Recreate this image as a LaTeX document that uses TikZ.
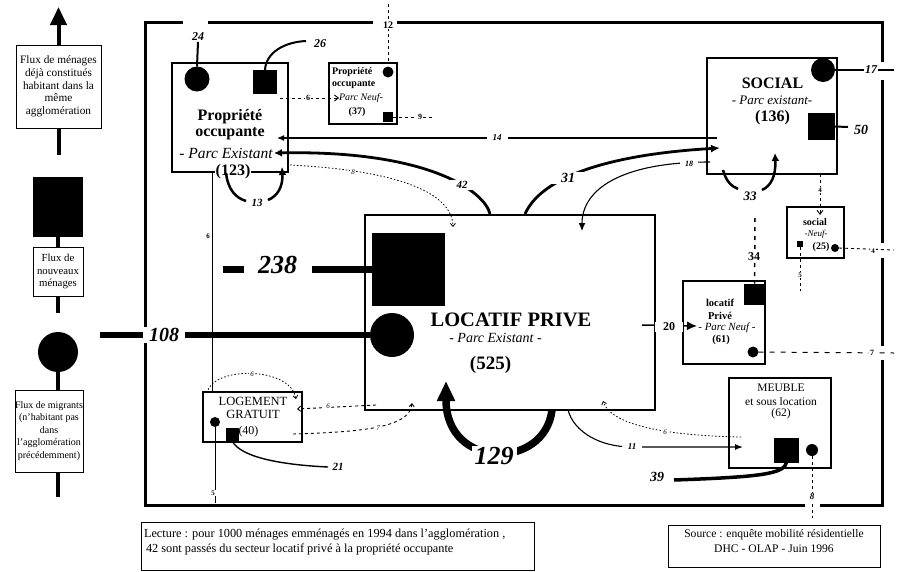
\documentclass[tikz,border=0pt]{standalone}
\usepackage{fontspec}
\setmainfont{Liberation Serif}
\usetikzlibrary{arrows.meta}
\newcommand{\myfs}[1]{\fontsize{#1}{#1}\selectfont}
\begin{document}
\begin{tikzpicture}[x=1pt,y=-1pt,line cap=butt,
  every node/.style={inner sep=0pt,outer sep=0pt},
  bx/.style={draw,line width=1.8pt,rectangle},
  lbox/.style={draw,line width=0.9pt,fill=white,align=center},
  blob/.style={circle,fill=black},
  sq/.style={rectangle,fill=black},
  num/.style={fill=white,inner sep=1pt,font=\bfseries\itshape},
  leg/.style={line width=4pt},
  thinflow/.style={line width=1.1pt},
  dsh/.style={line width=0.9pt,dash pattern=on 3pt off 3pt},
  dtt/.style={line width=0.8pt,dash pattern=on 1.5pt off 2pt},
  fa/.style={-{Latex[length=7pt,width=6pt]}},
  oa/.style={-{Straight Barb[length=3pt,width=5pt]}},
]
\useasboundingbox (0,0) rectangle (898,571);

% ---------- frame
\draw[line width=3pt] (183,22) -- (145,22) -- (145,505) -- (805,505)
  (820,505) -- (882,505) -- (882,360)
  (882,346) -- (882,258)
  (882,243) -- (882,80)
  (882,62) -- (882,22) -- (397,22)
  (373,22) -- (208,22);

% ---------- legend
\node[lbox,minimum width=85pt,minimum height=83pt,font={\fontsize{11.3}{12.7}\selectfont}] (L1) at (58.5,86.5) {Flux de ménages\\déjà constitués\\habitant dans la\\même\\agglomération};
\coordinate (Ltop) at (58.5,7);
\coordinate (L1b) at (58.5,155);
\draw[leg,-{Triangle[length=18pt,width=16pt]}] (L1.north) -- (Ltop);
\draw[leg] (L1.south) -- (L1b);
\node[sq,minimum width=50pt,minimum height=60pt] (LS) at (58,207) {};
\node[lbox,minimum width=50pt,minimum height=49pt,font={\fontsize{10.8}{12.5}\selectfont}] (L2) at (58,271.5) {Flux de\\nouveaux\\ménages};
\draw[leg] (LS.south) -- (L2.north);
\coordinate (L2b) at (58,313);
\draw[leg] (L2.south) -- (L2b);
\node[blob,minimum size=40pt] (LC) at (58,352) {};
\node[lbox,minimum width=68pt,minimum height=82pt,font={\fontsize{10}{12.5}\selectfont}] (L3) at (49,431) {Flux de migrants\\(n'habitant pas\\dans\\l'agglomération\\précédemment)};
\draw[leg] (LC.south) -- (LC.south |- L3.north);
\coordinate (L3b) at (58,497);
\draw[leg] (LC.south |- L3.south) -- (L3b);

% ---------- Propriete occupante (existant)
\node[bx,minimum width=116pt,minimum height=109pt] (PO) at (230,117.5) {};
\node[blob,minimum size=25pt] (POc) at (197,79) {};
\node[sq,minimum size=24pt] (POs) at (265,82) {};
\node[font=\bfseries\myfs{16}] at (230,117) {Propriété};
\node[font=\bfseries\myfs{16}] at (230,134) {occupante};
\node[font=\itshape\myfs{15.5}] at (226,153) {- Parc Existant};
\node[font=\bfseries\myfs{16},fill=white,inner sep=0.5pt] at (233,172) {(123)};
\coordinate (POa14) at (277,138);
\coordinate (POa42) at (274,153);

\node[num,font=\bfseries\itshape\myfs{12}] (n24) at (198,37) {24};
\draw[line width=2pt] (n24.south) -- (POc.north);
\coordinate (e26) at (306,41);
\draw[line width=2pt] (POs.north) .. controls (266,52) and (285,42) .. (e26);
\node[font=\bfseries\itshape\myfs{12}] at (320,44) {26};

% 13 loop
\coordinate (s13) at (226,173);
\coordinate (m13a) at (246,201);
\coordinate (m13b) at (268,200);
\coordinate (a13) at (282,167);
\draw[line width=2.5pt] (s13) .. controls (228,190) and (236,198) .. (m13a);
\draw[line width=2.5pt,-{Latex[length=8pt,width=8pt]}] (m13b) .. controls (278,196) and (283,186) .. (a13);
\node[font=\bfseries\itshape\myfs{11}] at (257,203) {13};

% ---------- Propriete occupante neuf
\node[bx,minimum width=68pt,minimum height=61pt] (PON) at (363,93.5) {};
\node[anchor=west,font=\bfseries\myfs{10}] at (332,72) {Propriété};
\node[anchor=west,font=\bfseries\myfs{10}] at (332,85) {occupante};
\node[blob,minimum size=11pt] (PONc) at (388,72) {};
\node[font=\itshape\myfs{10}] (PONt) at (361,98) {Parc Neuf-};
\node[font=\bfseries\myfs{10}] at (357,112) {(37)};
\node[sq,minimum size=10pt] (PONs) at (388,117) {};

\coordinate (s6a) at (280,98);
\draw[dsh,-{Straight Barb[length=4pt,width=6pt]}] (s6a) -- (PONt.west);
\node[num,font=\bfseries\myfs{8}] at (308,98) {6};
\coordinate (e9) at (434,117);
\draw[dsh] (PONs.east) -- (e9);
\node[num,font=\bfseries\myfs{8}] at (420,117) {9};
\coordinate (s12) at (388,4);
\draw[dsh] (s12) -- (PONc |- PON.north);
\node[num,font=\bfseries\myfs{10}] at (388,25) {12};

% ---------- Social
\node[bx,minimum width=130pt,minimum height=116pt] (SOC) at (772,116) {};
\node[font=\bfseries\myfs{16}] at (772.5,83) {SOCIAL};
\node[font=\itshape\myfs{13}] at (772,100) {- Parc existant-};
\node[font=\bfseries\myfs{16}] at (772.5,118) {(136)};
\node[blob,minimum size=24pt] (SOCc) at (823,70) {};
\node[sq,minimum size=27pt] (SOCs) at (821.5,126.5) {};
\coordinate (e17) at (894,70);
\draw[line width=1.8pt] (SOCc.east) -- (e17);
\node[num,font=\bfseries\itshape\myfs{12}] at (871,70) {17};
\coordinate (e50) at (848,127);
\draw[line width=2pt] (SOCs.east) -- (e50);
\node[font=\bfseries\itshape\myfs{14}] at (861,130) {50};

% 33 loop
\coordinate (s33) at (723,170);
\coordinate (m33a) at (738,189);
\coordinate (m33b) at (762,190);
\coordinate (a33) at (775,153);
\draw[line width=2.5pt] (s33) .. controls (726,181) and (731,186) .. (m33a);
\draw[line width=2.5pt,-{Latex[length=8pt,width=8pt]}] (m33b) .. controls (771,186) and (776,176) .. (a33);
\node[font=\bfseries\itshape\myfs{13}] at (750,196) {33};

% ---------- Locatif prive
\node[draw,line width=1.4pt,minimum width=290pt,minimum height=195pt] (LP) at (510,312.5) {};
\node[sq,minimum size=73pt] (LPs) at (408.5,269) {};
\node[blob,minimum size=44pt] (LPc) at (392,335) {};
\node[font=\bfseries\myfs{20.5}] at (511,320) {LOCATIF PRIVE};
\node[font=\itshape\myfs{14}] at (495.5,338) {- Parc Existant -};
\node[font=\bfseries\myfs{19}] at (490.5,365) {(525)};

% 238
\coordinate (s238) at (223,269);
\draw[line width=7pt] (s238) -- (LPs.west);
\node[num,minimum width=68pt,font=\bfseries\itshape\myfs{26}] at (277.5,265) {238};
% 108
\coordinate (s108) at (100,335);
\draw[line width=6pt] (s108) -- (LPc.west);
\node[num,minimum width=42pt,font=\bfseries\itshape\myfs{20}] at (164,335) {108};

% 14
\coordinate (s14) at (717,138);
\draw[thinflow,fa] (s14) -- (POa14);
\node[num,inner xsep=6pt,font=\bfseries\itshape\myfs{9}] at (497,138) {14};

% 42
\coordinate (s42) at (490,214);
\draw[line width=2.8pt,-{Latex[length=8pt,width=8pt]}] (s42) .. controls (485,192) and (430,150) .. (POa42);
\node[num,inner xsep=7pt,font=\bfseries\itshape\myfs{11}] at (462,185) {42};

% 31
\coordinate (s31) at (525,214);
\coordinate (a31) at (720,148);
\draw[line width=2.8pt,-{Latex[length=9pt,width=8pt]}] (s31) .. controls (540,180) and (600,155) .. (a31);
\node[num,inner xsep=12pt,font=\bfseries\itshape\myfs{14}] at (568,178) {31};

% 18
\coordinate (s18) at (710,162);
\coordinate (a18) at (582,231);
\draw[thinflow,-{Latex[length=8pt,width=7pt]}] (s18) .. controls (620,162) and (582,190) .. (a18);
\node[num,inner xsep=5pt,font=\bfseries\itshape\myfs{8}] at (689,164) {18};

% 8 dotted
\coordinate (s8) at (290,165);
\coordinate (a8) at (453,227);
\draw[dtt,oa] (s8) .. controls (390,170) and (452,190) .. (a8);
\node[num,font=\itshape\myfs{7}] at (353,172) {8};

% vertical 6
\coordinate (s6v) at (212,172);
\coordinate (e6v) at (212,392);
\draw[line width=0.5pt] (s6v) -- (e6v);
\node[num,font=\bfseries\myfs{7}] at (208,236) {6};

% ---------- social neuf
\node[bx,minimum width=57pt,minimum height=51pt] (SN) at (815.5,232.5) {};
\node[font=\bfseries\myfs{10}] at (815,222) {social};
\node[font=\itshape\myfs{9}] at (816,234.5) {-Neuf-};
\node[font=\bfseries\myfs{10}] at (821,247.5) {(25)};
\node[sq,minimum size=6pt] (SNs) at (800,244) {};
\node[blob,minimum size=8pt] (SNc) at (835,248) {};
\coordinate (s4) at (820,174);
\coordinate (a4) at (820,215);
\draw[dsh,-{Straight Barb[length=4pt,width=6pt]}] (s4) -- (a4);
\node[num,font=\bfseries\myfs{7}] at (820,190) {4};
\coordinate (e4r) at (894,250);
\draw[dsh] (SNc.east) -- (e4r);
\node[num,font=\bfseries\myfs{7}] at (873,251) {4};
\coordinate (e5s) at (800,291);
\draw[dsh] (SNs.south) -- (e5s);
\node[num,font=\bfseries\myfs{7}] at (800,275) {5};

% ---------- locatif prive neuf
\node[bx,minimum width=82pt,minimum height=83pt] (LPN) at (724,322.5) {};
\node[sq,minimum size=21pt] (LPNs) at (754.5,294) {};
\node[font=\bfseries\myfs{10.5}] at (720,303) {locatif};
\node[font=\bfseries\myfs{10.5}] at (720,316) {Privé};
\node[font=\itshape\myfs{11}] at (727,328) {- Parc Neuf -};
\node[font=\bfseries\myfs{10.5}] at (721,340) {(61)};
\node[blob,minimum size=11pt] (LPNc) at (753,352) {};
\coordinate (s34) at (755,218);
\draw[line width=1.5pt,dash pattern=on 4pt off 5pt] (s34) -- (LPNs.north);
\node[num,font=\bfseries\myfs{12}] at (754,257) {34};
\coordinate (e7r) at (894,353);
\draw[line width=1pt,dash pattern=on 5pt off 6pt] (LPNc.east) -- (e7r);
\node[num,font=\bfseries\myfs{8}] at (872,353) {7};
% 20
\coordinate (s20) at (642,325);
\coordinate (a20) at (697,326);
\draw[line width=1.5pt,-{Latex[length=10pt,width=9pt]}] (s20) -- (a20);
\node[num,minimum width=28pt,font=\bfseries\myfs{12}] at (669,327) {20};

% ---------- meuble
\node[bx,minimum width=102pt,minimum height=90pt] (MEU) at (780,423) {};
\node[font=\myfs{11.5}] at (781,388) {MEUBLE};
\node[font=\myfs{11.5}] at (781,402) {et sous location};
\node[font=\myfs{11.5}] at (781,414) {(62)};
\node[sq,minimum size=25pt] (MEUs) at (786.5,450) {};
\node[blob,minimum size=12pt] (MEUc) at (812,450) {};
\coordinate (e8) at (812,518);
\draw[dsh] (MEUc.south) -- (e8);
\node[num,font=\bfseries\itshape\myfs{9}] at (812,497) {8};
\coordinate (e39) at (674,480);
\draw[line width=3.5pt] (MEUs.south) .. controls (784,474) and (760,477) .. (e39);
\node[font=\bfseries\itshape\myfs{14}] at (657,477) {39};
% 11
\coordinate (s11) at (568,410);
\coordinate (m11) at (632,447);
\coordinate (a11) at (743,447);
\draw[thinflow,-{Latex[length=8pt,width=6pt]}] (s11) .. controls (574,432) and (600,447) .. (m11) -- (a11);
\node[num,inner xsep=6pt,font=\bfseries\itshape\myfs{9}] at (632,447) {11};
% 6 dotted meuble -> LP
\coordinate (s6m) at (741,437);
\coordinate (a6m) at (603,401);
\draw[dtt,oa] (s6m) .. controls (680,436) and (612,428) .. (a6m);
\node[num,font=\itshape\myfs{7}] at (665,432) {6};

% 129
\coordinate (s129) at (552,410);
\coordinate (a129) at (446,381);
\draw[line width=7.5pt,-{Triangle[length=20pt,width=17pt]}] (s129) .. controls (545,470) and (446,470) .. (a129);
\node[num,inner xsep=3pt,font=\bfseries\itshape\myfs{26}] at (494,456) {129};

% ---------- logement gratuit
\node[bx,minimum width=99pt,minimum height=50pt] (LG) at (252.5,417) {};
\node[font=\myfs{12.5}] at (253,401) {LOGEMENT};
\node[font=\myfs{12.5}] at (253,414) {GRATUIT};
\node[anchor=west,font=\myfs{12}] at (238.5,432) {(40)};
\node[blob,minimum size=10pt] (LGc) at (215,422) {};
\node[sq,minimum size=13pt] (LGs) at (232,434) {};
\coordinate (e5l) at (215,503);
\draw[line width=0.9pt] (LGc.south) -- (e5l);
\node[num,font=\bfseries\myfs{7}] at (213,493) {5};
\coordinate (e21) at (328,467);
\draw[line width=1.4pt] (LGs.south) .. controls (240,458) and (285,465) .. (e21);
\node[font=\bfseries\itshape\myfs{11}] at (338,467) {21};
% 6 arc
\coordinate (s6t) at (207,393);
\coordinate (a6t) at (296,399);
\draw[dtt,oa] (s6t) .. controls (212,366) and (290,366) .. (a6t);
\node[num,font=\itshape\myfs{7}] at (252,374) {6};
% 6 from LP
\coordinate (s6l) at (376,405);
\coordinate (a6l) at (297,409);
\draw[dsh,oa] (s6l) -- (a6l);
\node[num,font=\itshape\myfs{7}] at (328,406) {6};
% 7
\coordinate (s7) at (293,434);
\coordinate (a7) at (412,403);
\draw[dsh,oa] (s7) .. controls (360,432) and (410,428) .. (a7);
\node[num,font=\itshape\myfs{7}] at (378,428) {7};

% ---------- footer boxes
\node[draw,line width=0.8pt,minimum width=393pt,minimum height=48pt] (LEC) at (337.5,546) {};
\node[anchor=west,font=\myfs{12.3}] at (144,535) {Lecture : pour 1000 ménages emménagés en 1994 dans l'agglomération ,};
\node[anchor=west,font=\myfs{12.3}] at (146,549) {42 sont passés du secteur locatif privé à la propriété occupante};
\node[draw,line width=0.8pt,minimum width=212pt,minimum height=42pt] (SRC) at (774,546) {};
\node[font=\myfs{11.6}] at (774,535) {Source : enquête mobilité résidentielle};
\node[font=\myfs{11.6}] at (774,549) {DHC - OLAP - Juin 1996};
\end{tikzpicture}
\end{document}
